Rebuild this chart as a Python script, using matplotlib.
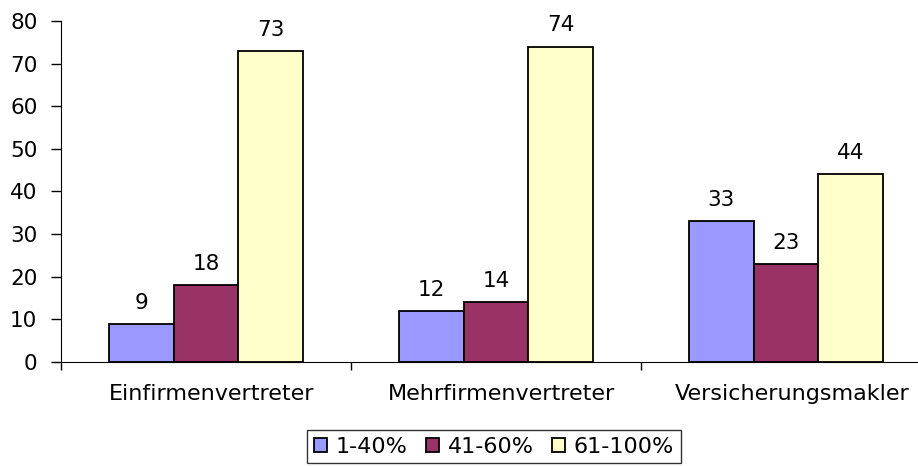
import matplotlib.pyplot as plt
import numpy as np

plt.rcParams['font.family'] = ['DejaVu Sans']

categories = ['Einfirmenvertreter', 'Mehrfirmenvertreter', 'Versicherungsmakler']
series_names = ['1-40%', '41-60%', '61-100%']
v_1_40 = [9, 12, 33]
v_41_60 = [18, 14, 23]
v_61_100 = [73, 74, 44]
colors = ['#9999FF', '#993366', '#FFFFCC']

fig = plt.figure(figsize=(9.18, 4.66), dpi=100)
ax = fig.add_axes([61 / 918, 0.2232, 870 / 918, 0.7318])

x = np.arange(len(categories))
w = 0.224
series = [v_1_40, v_41_60, v_61_100]
for i, (vals, name, c) in enumerate(zip(series, series_names, colors)):
    bars = ax.bar(x + (i - 1) * w, vals, w, color=c, edgecolor='black',
                  linewidth=1.3, label=name)
    for b, v in zip(bars, vals):
        ax.annotate(str(v), (b.get_x() + b.get_width() / 2, v),
                    xytext=(0, 8), textcoords='offset points',
                    ha='center', va='bottom', fontsize=15.5)

ax.set_xlim(-0.5, 2.5)
ax.set_ylim(0, 80)
ax.set_yticks(range(0, 81, 10))
ax.tick_params(axis='y', labelsize=15.5, length=7, width=1, direction='out', pad=10)
ax.set_xticks([-0.5, 0.5, 1.5, 2.5])
ax.set_xticklabels([])
ax.set_xticks(x + 0.02, minor=True)
ax.set_xticklabels(categories, minor=True, fontsize=16)
ax.tick_params(axis='x', which='major', length=6, width=1)
ax.tick_params(axis='x', which='minor', length=0, pad=16)

ax.spines['top'].set_visible(False)
ax.spines['right'].set_visible(False)

leg = fig.legend(loc='upper center', bbox_to_anchor=(0.538, 0.0773), ncol=3,
                 fontsize=16, frameon=True, fancybox=False, edgecolor='black',
                 handlelength=0.6, handleheight=0.6, handletextpad=0.4,
                 columnspacing=0.8, borderpad=0.3, borderaxespad=0)
leg.get_frame().set_linewidth(1)

fig.savefig('out.png', dpi=100)
